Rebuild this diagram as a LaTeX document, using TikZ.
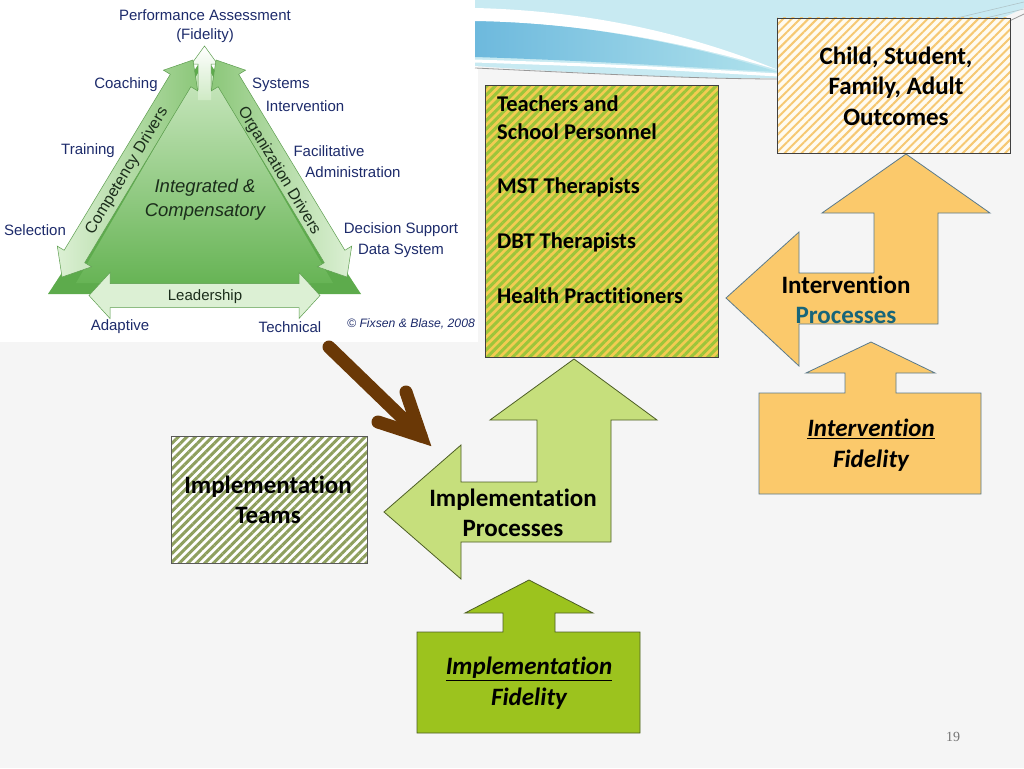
\documentclass[tikz,border=0pt]{standalone}
\usepackage{fontspec}
\setmainfont{Carlito}[Ligatures={NoCommon,NoContextual}]
\newfontfamily\arialf{Liberation Sans}
\newfontfamily\seriff{Liberation Serif}
\usetikzlibrary{patterns.meta}
\definecolor{slidebg}{HTML}{F5F5F5}
\definecolor{navy}{HTML}{1D2B6B}
\definecolor{tridark}{HTML}{5DAB4C}
\definecolor{triinA}{HTML}{CFEAC5}
\definecolor{triinB}{HTML}{67B455}
\definecolor{arrpale}{HTML}{DCF0D4}
\definecolor{arrmed}{HTML}{8CC77A}
\definecolor{arredge}{HTML}{5E9E50}
\definecolor{tritxt}{HTML}{1B2D1B}
\definecolor{teachY}{HTML}{F3CC52}
\definecolor{teachG}{HTML}{9CC53A}
\definecolor{outcW}{HTML}{FFFBF0}
\definecolor{outcO}{HTML}{F6C872}
\definecolor{teamsG}{HTML}{8E9F5E}
\definecolor{implP}{HTML}{C6DF7C}
\definecolor{implF}{HTML}{9CC31E}
\definecolor{intvO}{HTML}{FBC96B}
\definecolor{greenedge}{HTML}{4D5E25}
\definecolor{orangeedge}{HTML}{5A7A8C}
\definecolor{tealtxt}{HTML}{17657A}
\definecolor{brownarr}{HTML}{6A3806}
\definecolor{waveblue}{HTML}{6DB9DD}
\definecolor{wavelight}{HTML}{B0E2EC}
\definecolor{wavecyan}{HTML}{C8EAF2}
\newcommand\DblArr[7]{%
  \begin{scope}[shift={#1}, rotate=#2]
    \path[#7] ({-#3/2},0) -- ({-#3/2+#6},{#5}) -- ({-#3/2+#6},{#4}) -- ({#3/2-#6},{#4})
      -- ({#3/2-#6},{#5}) -- ({#3/2},0) -- ({#3/2-#6},{-#5}) -- ({#3/2-#6},{-#4})
      -- ({-#3/2+#6},{-#4}) -- ({-#3/2+#6},{-#5}) -- cycle;
  \end{scope}}
\tikzset{
  trilab/.style={font=\arialf\fontsize{15}{18}\selectfont, text=navy, inner sep=0pt},
  drvlab/.style={font=\arialf\fontsize{16}{18}\selectfont, text=tritxt, inner sep=0pt},
  bigtxt/.style={font=\fontsize{25}{30.5}\selectfont\bfseries, align=center, inner sep=0pt},
  teachtxt/.style={font=\fontsize{22.5}{27}\selectfont\bfseries, anchor=base west, inner sep=0pt},
  greenout/.style={draw=greenedge, line width=0.8pt},
  orangeout/.style={draw=orangeedge, line width=0.8pt},
  boxline/.style={draw=black!75, line width=0.9pt},
  brownline/.style={draw=brownarr, line width=13pt, line cap=round, line join=miter},
}
\begin{document}
\begin{tikzpicture}[x=1pt,y=-1pt]
\useasboundingbox (0,0) rectangle (1024,768);
\fill[slidebg] (0,0) rectangle (1024,768);
% image background
\fill[white] (0,0) rectangle (478,342);

% ---- wave at top right
\fill[wavecyan] (475,0) -- (1024,0) -- (1024,8) .. controls (960,38) and (860,76) .. (775,78)
   .. controls (680,79) and (560,72) .. (475,66) -- cycle;
\shade[left color=waveblue, right color=wavelight] (475,20) .. controls (600,24) and (700,48) .. (778,72)
   .. controls (700,68) and (600,61) .. (475,57) -- cycle;
\fill[white] (475,8) .. controls (600,11) and (700,38) .. (778,70)
   .. controls (690,44) and (590,23) .. (475,21) -- cycle;
\draw[white, line width=3pt] (475,61) .. controls (620,66) .. (778,75);
\draw[black!40, line width=0.8pt] (475,68) .. controls (600,74) and (700,79) .. (780,79)
   .. controls (880,76) and (960,45) .. (1024,14);
\draw[wavelight!70!black!60, line width=0.6pt] (940,22) -- (1024,2);
\draw[wavelight!70!black!60, line width=0.6pt] (960,24) -- (1024,9);

% ---- triangle figure
\fill[tridark] (48,294) -- (361,294) -- (204.5,55) -- cycle;
\shade[top color=triinA, bottom color=triinB] (76,283) -- (333,283) -- (204.5,62) -- cycle;
\shade[top color=white, bottom color=triinA]
   (204.5,46) -- (217.5,64) -- (211,64) -- (211,100) -- (198,100) -- (198,64) -- (191.5,64) -- cycle;
\draw[arredge, line width=0.5pt] (198,90) -- (198,64) -- (191.5,64) -- (204.5,46) -- (217.5,64) -- (211,64) -- (211,90);
\DblArr{(127.5,168.5)}{58.9}{253.5}{12}{20}{24}{left color=arrpale, right color=arrmed, draw=arredge, line width=0.5pt}
\DblArr{(281.5,168.5)}{-58.9}{253.5}{12}{20}{24}{left color=arrmed, right color=arrpale, draw=arredge, line width=0.5pt}
\DblArr{(204.5,295.5)}{0}{231}{12}{23}{21}{left color=arrpale, middle color=arrmed!65!arrpale, right color=arrpale, draw=arredge, line width=0.5pt}

\node[drvlab, rotate=58.9] (compdrv) at (127,171) {Competency Drivers};
\node[drvlab, rotate=-58.9] (orgdrv) at (279,171) {Organization Drivers};
\node[font=\arialf\itshape\fontsize{18.5}{22}\selectfont, text=tritxt, inner sep=0pt] (integ) at (205,188) {Integrated \&};
\node[font=\arialf\itshape\fontsize{18.5}{22}\selectfont, text=tritxt, inner sep=0pt] (compens) at (205,212) {Compensatory};
\node[font=\arialf\fontsize{15}{18}\selectfont, text=tritxt, inner sep=0pt] (lead) at (205,297) {Leadership};

\node[trilab] (perf) at (205,15) {Performance Assessment};
\node[trilab] (fidl) at (205,36) {(Fidelity)};
\node[trilab] (coach) at (126,85) {Coaching};
\node[trilab, anchor=west] (sys) at (252,85) {Systems};
\node[trilab] (sysint) at (305,106) {Intervention};
\node[trilab] (train) at (88,151) {Training};
\node[trilab] (facil) at (329,151) {Facilitative};
\node[trilab] (admin) at (353,172) {Administration};
\node[trilab] (sel) at (35,230) {Selection};
\node[trilab] (dss) at (401,230) {Decision Support};
\node[trilab] (dsys) at (401,251) {Data System};
\node[trilab] (adapt) at (120,327) {Adaptive};
\node[trilab] (tech) at (290,327) {Technical};
\node[font=\arialf\itshape\fontsize{12.2}{14}\selectfont, text=navy, inner sep=0pt] (copy) at (411,324) {© Fixsen \& Blase, 2008};

% ---- brown arrow
\coordinate (bstart) at (329,347);
\coordinate (btip) at (421,436);
\coordinate (bh1) at (406,392);
\coordinate (bh2) at (378,422);
\draw[brownline] (bstart) -- (btip);
\draw[brownline] (bh1) -- (btip) -- (bh2);

% ---- Teachers box
\node[boxline, preaction={fill=teachY}, pattern={Lines[angle=45,distance=6pt,line width=3pt]}, pattern color=teachG,
      minimum width=233pt, minimum height=272pt, inner sep=0pt] (teach) at (601.5,221) {};
\node[teachtxt] (t1) at (497,111) {Teachers and};
\node[teachtxt] (t2) at (497,139) {School Personnel};
\node[teachtxt] (t3) at (497,193) {MST Therapists};
\node[teachtxt] (t4) at (497,248) {DBT Therapists};
\node[teachtxt] (t5) at (497,303) {Health Practitioners};

% ---- Outcomes box
\node[boxline, preaction={fill=outcW}, pattern={Lines[angle=45,distance=6pt,line width=2pt]}, pattern color=outcO,
      minimum width=233pt, minimum height=135pt, inner sep=0pt] (outc) at (893.5,85.5) {};
\node[bigtxt] (outctxt) at (896,86) {Child, Student,\\Family, Adult\\Outcomes};

% ---- Implementation Teams box
\node[draw=black!65, line width=0.9pt, preaction={fill=white}, pattern={Lines[angle=45,distance=6pt,line width=3pt]}, pattern color=teamsG,
      minimum width=196pt, minimum height=127pt, inner sep=0pt] (teams) at (269,499.5) {};
\node[bigtxt] (teamstxt) at (268,500) {Implementation\\Teams};

% ---- Implementation Processes arrow
\fill[implP, greenout] (574,359) -- (657,420) -- (611,420) -- (611,542) -- (461,542) -- (461,579)
   -- (384,512) -- (461,445) -- (461,482) -- (537,482) -- (537,420) -- (490,420) -- cycle;
\node[bigtxt] (impproc) at (513,513) {Implementation\\Processes};

% ---- Implementation Fidelity
\fill[implF, greenout] (529,580) -- (593,613) -- (555,613) -- (555,632) -- (640,632) -- (640,733)
   -- (417,733) -- (417,632) -- (503,632) -- (503,613) -- (465,613) -- cycle;
\node[bigtxt, font=\fontsize{25}{30.5}\selectfont\bfseries\itshape] (impfid) at (529,683) {\underline{Implementation}\\Fidelity};

% ---- Intervention Processes arrow
\fill[intvO, orangeout] (906,154) -- (990,213) -- (938,213) -- (938,324) -- (799,324) -- (799,366)
   -- (726,298) -- (799,232) -- (799,273) -- (874,273) -- (874,213) -- (822,213) -- cycle;
\node[bigtxt] (intproc) at (846,300) {Intervention\\\textcolor{tealtxt}{Processes}};

% ---- Intervention Fidelity
\fill[intvO, orangeout] (871,342) -- (935,373) -- (896,373) -- (896,393) -- (981,393) -- (981,494)
   -- (759,494) -- (759,393) -- (845,393) -- (845,373) -- (806,373) -- cycle;
\node[bigtxt, font=\fontsize{25}{30.5}\selectfont\bfseries\itshape] (intfid) at (871,445) {\underline{Intervention}\\Fidelity};

% ---- page number
\node[font=\seriff\fontsize{14}{16}\selectfont, text=black!55, inner sep=0pt] (pg) at (953,737) {19};
\end{tikzpicture}
\end{document}
